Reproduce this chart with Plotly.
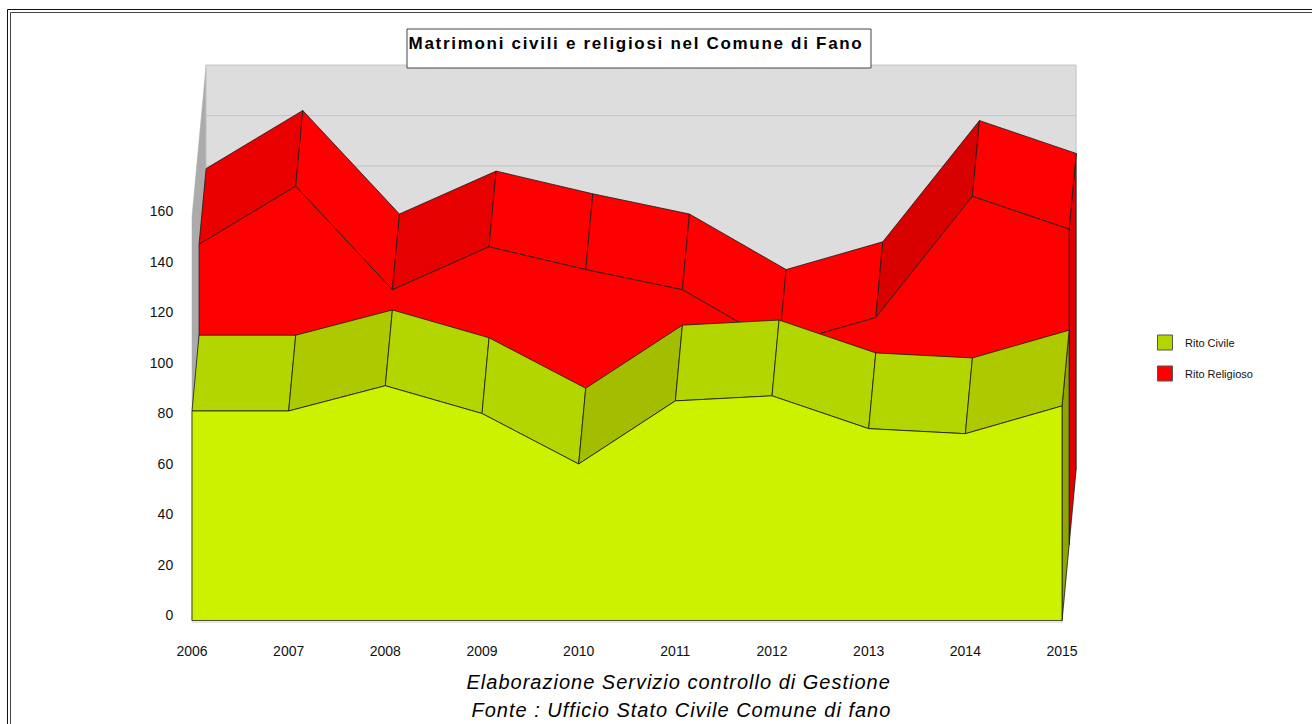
import plotly.graph_objects as go

years = [2006, 2007, 2008, 2009, 2010, 2011, 2012, 2013, 2014, 2015]
rito_civile = [81, 81, 91, 80, 60, 85, 87, 74, 72, 83]
rito_religioso = [117, 140, 99, 116, 107, 99, 77, 88, 136, 123]
y_ticks = [0, 20, 40, 60, 80, 100, 120, 140, 160]

W, H = 1312, 724
L, R, T, B = 180, 1090, 60, 625
PX_YEAR = 96.67
PX_UNIT = 2.525
ZERO_PX = 615.5
DEPTH_X = 0.073
DEPTH_Y = 30
FLOOR = -2
WALL_TOP = 158

x_range = [2006 + (L - 192) / PX_YEAR, 2006 + (R - 192) / PX_YEAR]
y_range = [(ZERO_PX - B) / PX_UNIT, (ZERO_PX - T) / PX_UNIT]

def px(v):
    return (v - L) / (R - L)

def py(v):
    return (B - v) / (B - T)

civ_front, civ_light, civ_mid, civ_dark, civ_side = "#CCF200", "#B3D600", "#ADCA00", "#A3BD00", "#8EA600"
red_front, red_a, red_b, red_c, red_side = "#FF0000", "#EB0000", "#E60000", "#D90000", "#E00000"
civ_faces = [civ_light, civ_mid, civ_light, civ_light, civ_dark, civ_light, civ_light, civ_light, civ_mid]
red_faces = [red_a, red_front, red_b, red_front, red_front, red_front, red_front, red_c, red_front]
EDGE = dict(color="#1a1a1a", width=0.8)

fig = go.Figure()

def poly(xs, ys, fill, line=EDGE):
    fig.add_trace(go.Scatter(x=xs, y=ys, mode="lines", fill="toself", fillcolor=fill, line=line,
                             showlegend=False, hoverinfo="skip"))

def layer(values, depth, top_colors, front_color, side_color):
    dx = depth * DEPTH_X
    dy = depth * DEPTH_Y
    xf = [y + dx for y in years]
    yf = [v + dy for v in values]
    xb = [y + DEPTH_X for y in xf]
    yb = [v + DEPTH_Y for v in yf]
    base = FLOOR + dy
    poly([xf[-1], xb[-1], xb[-1], xf[-1], xf[-1]],
         [yf[-1], yb[-1], base + DEPTH_Y, base, yf[-1]], side_color)
    for i in range(len(years) - 1):
        poly([xf[i], xf[i + 1], xb[i + 1], xb[i], xf[i]],
             [yf[i], yf[i + 1], yb[i + 1], yb[i], yf[i]], top_colors[i])
    poly([xf[0]] + xf + [xf[-1], xf[0]], [base] + yf + [base, base], front_color)

# floor shadow
fig.add_trace(go.Scatter(x=[years[0], years[-1], years[-1] + 2 * DEPTH_X],
                         y=[FLOOR - 0.7, FLOOR - 0.7, FLOOR + 2 * DEPTH_Y],
                         mode="lines", line=dict(color="#E4E4E4", width=1.5),
                         showlegend=False, hoverinfo="skip"))
# walls
wx0 = years[0]
wxb = years[0] + 2 * DEPTH_X
wxe = years[-1] + 2 * DEPTH_X
poly([wx0, wxb, wxb, wx0, wx0], [FLOOR, FLOOR + 2 * DEPTH_Y, WALL_TOP + 2 * DEPTH_Y, WALL_TOP, FLOOR],
     "#ABABAB", dict(color="#ABABAB", width=0.5))
poly([wxb, wxe, wxe, wxb, wxb],
     [FLOOR + 2 * DEPTH_Y, FLOOR + 2 * DEPTH_Y, WALL_TOP + 2 * DEPTH_Y, WALL_TOP + 2 * DEPTH_Y, FLOOR + 2 * DEPTH_Y],
     "#DDDDDD", dict(color="#C4C4C4", width=1))
for t in y_ticks[-3:-1]:
    fig.add_trace(go.Scatter(x=[wxb, wxe], y=[t + FLOOR + 2 * DEPTH_Y] * 2, mode="lines",
                             line=dict(color="#C4C4C4", width=1), showlegend=False, hoverinfo="skip"))

layer(rito_religioso, 1, red_faces, red_front, red_side)
layer(rito_civile, 0, civ_faces, civ_front, civ_side)

# legend entries
for name, col, grp in [("Rito Civile", civ_light, "a"), ("Rito Religioso", red_front, "b")]:
    fig.add_trace(go.Scatter(x=[None], y=[None], mode="markers", name=name, legendgroup=grp,
                             marker=dict(symbol="square", size=15, color=col, line=dict(color="#555555", width=1))))

font = "Liberation Sans, Arial, sans-serif"
frame = [
    dict(type="rect", xref="paper", yref="paper", x0=px(7.5), y0=py(9.5), x1=px(1340), y1=py(760),
         line=dict(color="#111111", width=1), fillcolor="rgba(0,0,0,0)", layer="below"),
    dict(type="rect", xref="paper", yref="paper", x0=px(10.5), y0=py(12.5), x1=px(1340), y1=py(760),
         line=dict(color="#444444", width=1), fillcolor="rgba(0,0,0,0)", layer="below"),
    dict(type="rect", xref="paper", yref="paper", x0=px(407), y0=py(29), x1=px(871), y1=py(68),
         line=dict(color="#444444", width=1), fillcolor="white", layer="above"),
]

fig.update_layout(
    width=W, height=H, margin=dict(l=L, r=W - R, t=T, b=H - B),
    paper_bgcolor="white", plot_bgcolor="white",
    font=dict(family=font, color="#111111"),
    title=dict(text="<b>Matrimoni civili e religiosi nel Comune di Fano</b>",
               x=636 / W, xanchor="center", y=1 - 43 / H, yanchor="middle",
               font=dict(family=font, size=17, color="black")),
    xaxis=dict(range=x_range, tickmode="array", tickvals=years, ticktext=[str(y) for y in years],
               showgrid=False, zeroline=False, showline=False, ticks="outside", ticklen=13,
               tickcolor="rgba(0,0,0,0)", tickfont=dict(family=font, size=14)),
    yaxis=dict(range=y_range, tickmode="array", tickvals=y_ticks, ticktext=[str(t) for t in y_ticks],
               showgrid=False, zeroline=False, showline=False, ticks="outside", ticklen=3,
               tickcolor="rgba(0,0,0,0)", tickfont=dict(family=font, size=14)),
    legend=dict(x=px(1145), y=py(328), xanchor="left", yanchor="top", tracegroupgap=12,
                traceorder="grouped", font=dict(family=font, size=11), bgcolor="rgba(0,0,0,0)"),
    shapes=frame,
    annotations=[
        dict(text="<i>Elaborazione Servizio controllo di Gestione</i>", xref="paper", yref="paper",
             x=px(678.5), y=py(682), xanchor="center", yanchor="middle", showarrow=False,
             font=dict(family=font, size=20, color="black")),
        dict(text="<i>Fonte : Ufficio Stato Civile Comune di fano</i>", xref="paper", yref="paper",
             x=px(681.5), y=py(710), xanchor="center", yanchor="middle", showarrow=False,
             font=dict(family=font, size=20, color="black")),
    ],
)

spacing_css = (
    "var s=document.createElement('style');"
    "s.textContent='.gtitle{letter-spacing:1.7px}.annotation-text{letter-spacing:1px}';"
    "document.head.appendChild(s);"
)
fig.write_html("out.html", config=dict(displayModeBar=False),
               post_script="document.body.style.margin='0';document.documentElement.style.overflow='hidden';" + spacing_css)
